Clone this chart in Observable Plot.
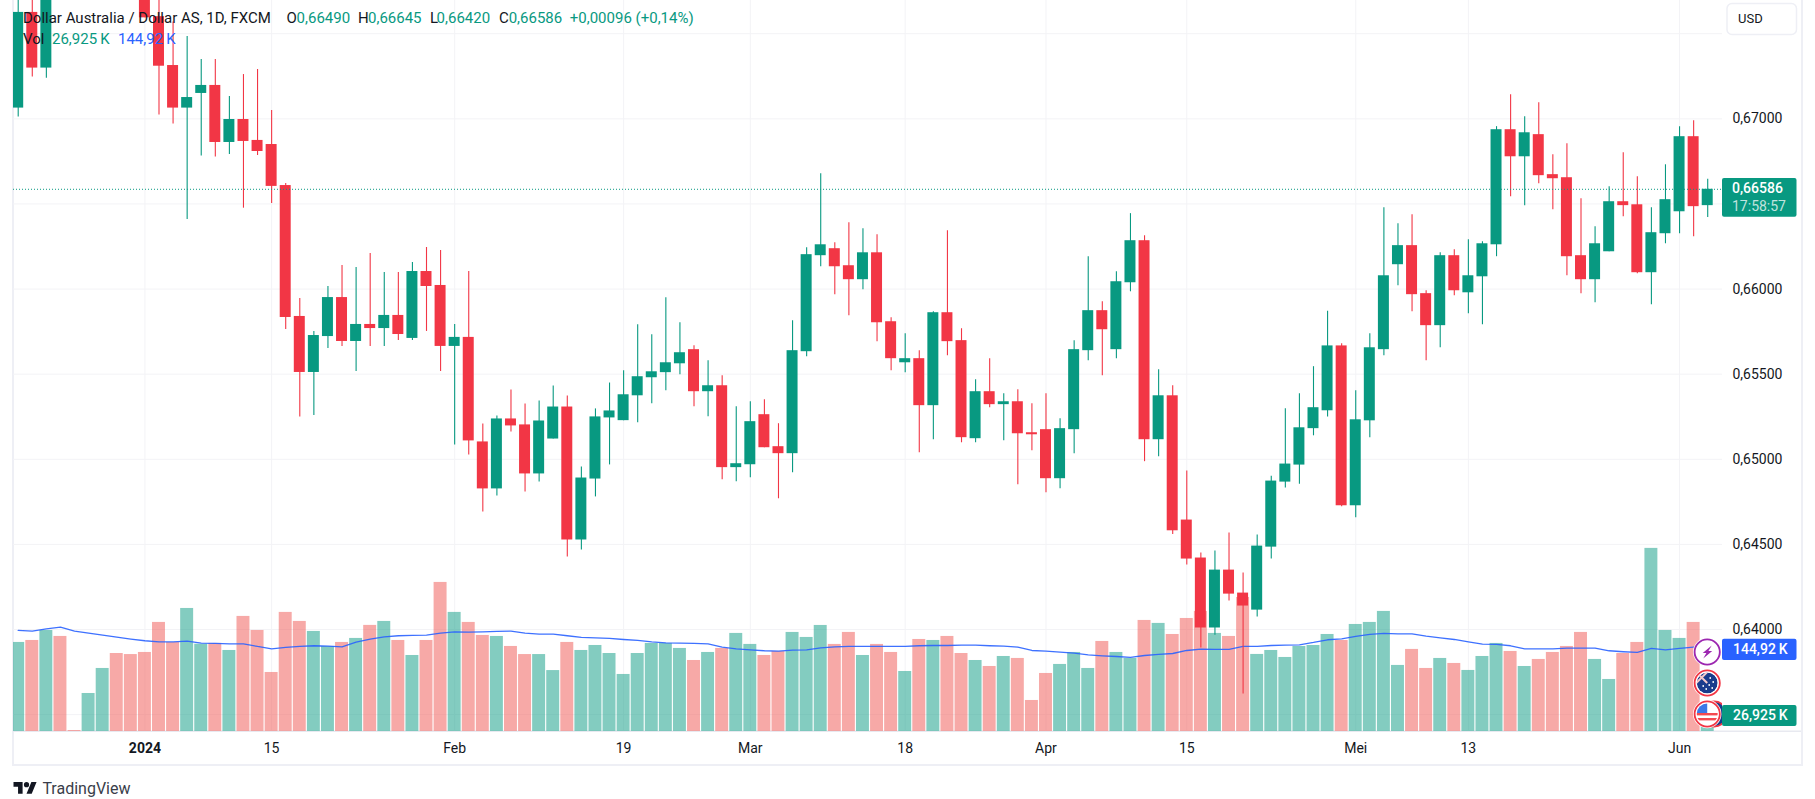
<!DOCTYPE html>
<html>
<head>
<meta charset="utf-8">
<title>Dollar Australia / Dollar AS</title>
<script src="https://cdn.jsdelivr.net/npm/d3@7"></script>
<script src="https://cdn.jsdelivr.net/npm/@observablehq/plot@0.6"></script>
<style>html,body{margin:0;padding:0;background:#fff}</style>
</head>
<body>
<div id="chart"></div>
<script>
// Prices in 1/100000 units
const opens = [67063,67625,67298,67900,67800,67790,67950,68100,68000,67850,67600,67313,67063,67149,67196,66861,66996,66873,66849,66608,65839,65510,65721,65950,65692,65792,65768,65845,65710,66103,66021,65663,65716,65102,64826,65237,65202,64914,65119,65307,64526,64884,65243,65227,65373,65479,65509,65561,65644,65397,65432,64951,64968,65262,65074,65033,65632,66196,66237,66137,66055,66213,65808,65567,65591,65315,65861,65697,65121,65397,65321,65338,65156,65174,64886,65174,65638,65873,65644,66037,66284,65115,65373,64643,64420,64009,64349,64214,64114,64484,64866,64966,65180,65285,65666,64727,65226,65644,66143,66255,65973,65785,66196,65978,66072,66260,66936,66777,66907,66672,66654,66196,66055,66219,66513,66495,66096,66325,66454,66895,66490];
const highs = [67760,67740,67850,68000,67860,68050,68200,68180,68080,67900,67750,67568,67484,67349,67349,67131,67260,67290,67049,66620,65945,65751,66015,66138,66127,66209,66097,66097,66156,66244,66227,65792,66103,65208,65255,65407,65325,65343,65431,65372,64955,65296,65448,65520,65790,65732,65949,65802,65667,65579,65491,65309,65338,65350,65209,65814,66243,66677,66272,66390,66354,66319,65832,65738,65638,65867,66343,65767,65467,65591,65385,65409,65326,65385,65238,65697,66190,65926,66102,66443,66313,65526,65432,64931,64449,64461,64567,64332,64555,64901,65297,65385,65544,65870,65678,65402,65737,66478,66384,66437,65990,66213,66231,66290,66278,66954,67142,67012,67095,66789,66854,66531,66366,66601,66801,66660,66478,66730,66954,66989,66645];
const lows = [67010,67245,67239,67720,67760,67750,67900,67950,67780,67593,67022,66969,66409,66781,66775,66790,66475,66785,66503,65763,65248,65257,65651,65663,65516,65663,65663,65698,65698,65751,65516,65084,65025,64691,64785,65161,64808,64867,65119,64426,64467,64779,64967,65227,65215,65326,65403,65497,65309,65250,64880,64868,64892,65068,64768,64921,65603,66131,65967,65843,65996,65691,65520,65509,65039,65115,65608,65097,65097,65303,65109,64851,65050,64804,64827,65033,65579,65491,65591,65984,64986,65015,64558,64379,63891,63967,64167,63621,64073,64414,64831,64854,65138,65249,64721,64656,65126,65608,66020,65867,65579,65655,65961,65855,65790,66190,66542,66490,66619,66466,66078,65973,65920,66219,66425,66090,65908,66266,66325,66307,66420];
const closes = [67625,67298,67800,67800,67790,67950,68100,68000,67850,67593,67309,67063,67125,67196,66861,66996,66867,66808,66603,65833,65510,65727,65950,65692,65792,65768,65845,65733,66103,66015,65663,65716,65108,64826,65237,65196,64914,65225,65307,64526,64890,65249,65284,65379,65485,65514,65567,65626,65397,65432,64951,64974,65221,65068,65033,65638,66202,66260,66131,66055,66213,65802,65591,65591,65315,65861,65691,65127,65397,65321,65338,65150,65144,64886,65180,65644,65873,65761,66043,66284,65115,65373,64580,64414,64009,64349,64208,64138,64490,64872,64972,65185,65303,65666,64727,65232,65655,66078,66255,65967,65785,66196,65990,66078,66266,66936,66777,66918,66666,66648,66190,66055,66266,66513,66490,66096,66331,66525,66895,66484,66586];
// Volume and its moving average, in thousands
const volumes = [153,156.4,173.6,163.3,1.7,65.3,108.3,134,132.2,135.8,187.4,153,211.4,150,151.3,139.2,197.7,173.6,101.4,204.6,189.1,171.9,146.1,153,159.9,182.3,189.1,156.4,130.6,156.4,256.1,204.6,187.4,165,163.3,146.1,132.2,132.2,104.7,153,139.2,147.8,134,98,134,151.3,151.3,142.7,122,135.8,142.7,168.5,149.6,130.6,137.5,170.2,161.6,182.2,149.6,170.2,130.6,149.6,135.8,103.1,158.1,156.4,163.3,134,122,111.7,128.9,125.5,53.3,99.7,115.2,135.8,108.3,154.7,135.8,125.5,190.8,185.7,166.7,194.2,206.3,168.5,163.3,230.3,132.4,139.2,127.2,146.1,147.8,166.7,156.4,183.9,187.4,206.3,113.5,141,108.3,125.5,116.9,104.9,128.9,151.3,137.5,111.7,123.8,135.8,146.1,170.2,123.8,89.4,134,153,314.6,173.6,159.9,187.4,26.925];
const volumeMA = [173.6,172.5,176.5,179.3,172.5,169,165.6,162,158.7,155.9,154.1,154.1,155.3,151.8,151.3,150.7,150.7,146.1,142.1,144.4,146.1,147.3,146.7,145.5,153.6,158.7,162.7,164.5,165,165.6,169,171.3,170.8,171.3,171.9,172.5,169,167.3,167.3,164.5,161.6,161,159.9,158.1,156.4,154.1,152.4,151.8,151.3,150.7,145,142.1,140.4,138.7,138.1,139.8,140.4,143.8,145.5,146.1,146.1,146.1,146.1,146.1,147.3,147.8,147.8,148.4,148.4,147.3,146.7,145,139.2,138.1,136.4,134.7,131.8,130.1,128.9,127.2,130.6,132.4,134,139.2,141.5,141,141,146.1,146.1,147.8,148.4,149,153,157.6,159.3,163.3,166.7,168.5,167.9,167.9,163.9,161,158.1,154.1,150.1,149.6,147.3,142.1,142.1,142.1,143.3,143.3,143.3,138.7,137,135.8,142.7,140.4,142.7,145,144.92];

const tickBars = [18,31,43,52,63,73,83,95,103,118];
const tickNames = ["15","Feb","19","Mar","18","Apr","15","Mei","13","Jun"];
const yearBar = 9, yearName = "2024";
const priceTicks = [0.64,0.645,0.65,0.655,0.66,0.67];
const priceGrid = [0.635,0.64,0.645,0.65,0.655,0.66,0.665,0.67,0.675];
const lastPrice = 0.66586, lastVolume = "26,925\u2009K", lastMA = "144,92\u2009K";

const UP = "#089981", DOWN = "#f23645", VOLDOWN = "#ef5350", BLUE = "#2962ff", INK = "#131722", GRID = "#f3f3f6", EDGE = "#eeeff5";
const volumeFloor = 0.63401, volumeUnit = 0.582 / 17023;
const fmtPrice = d => d3.format(".5f")(d).replace(".", ",");
const bars = opens.map((o, i) => ({
  i, o: o / 1e5, h: highs[i] / 1e5, l: lows[i] / 1e5, c: closes[i] / 1e5,
  dir: closes[i] >= o ? "up" : "down",
  volColor: closes[i] >= o ? UP : VOLDOWN,
  vol: volumeFloor + volumes[i] * volumeUnit,
  ma: volumeFloor + volumeMA[i] * volumeUnit
}));

const legendRows = [
  [23, 18, "Dollar Australia / Dollar AS, 1D, FXCM", INK],
  [286.5, 18, "O", INK], [296.6, 18, "0,66490", UP],
  [358, 18, "H", INK], [368, 18, "0,66645", UP],
  [430, 18, "L", INK], [436.6, 18, "0,66420", UP],
  [499, 18, "C", INK], [508.7, 18, "0,66586", UP],
  [569.8, 18, "+0,00096 (+0,14%)", UP],
  [23, 38.5, "Vol", INK], [52, 38.5, lastVolume, UP], [118, 38.5, lastMA, BLUE]
];

function chrome() {
  const g = d3.create("svg:g");
  const rect = (x, y, w, h, f) => g.append("rect").attr("x", x).attr("y", y).attr("width", w).attr("height", h).attr("fill", f);
  rect(12, 0, 2, 766, EDGE);
  rect(1801, 0, 2, 766, EDGE);
  rect(12, 764, 1791, 2, EDGE);
  rect(13, 730.5, 1788, 1.5, "#e8e9f0");
  return g.node();
}

function overlay(index, { x, y }) {
  const g = d3.create("svg:g").attr("font-family", "Roboto, sans-serif").attr("text-anchor", "start");
  const tag = (top, h, fill) => g.append("rect").attr("x", 1722).attr("y", top).attr("width", 74.5).attr("height", h).attr("rx", 2).attr("fill", fill);
  const label = (px, py, s, fill, size, weight) => g.append("text").attr("x", px).attr("y", py).attr("dy", "0.35em")
    .attr("fill", fill).attr("font-size", size).attr("font-weight", weight || 400).text(s);
  const yp = y(lastPrice);
  tag(yp - 10.7, 38.7, UP);
  label(1732, yp - 0.5, fmtPrice(lastPrice), "#fff", 14, 500);
  label(1732, yp + 17, "17:58:57", "rgba(255,255,255,.75)", 14);
  tag(638.7, 21.3, BLUE); label(1733, 649.5, lastMA, "#fff", 14, 500);
  tag(705, 21, UP); label(1733, 715.5, lastVolume, "#fff", 14, 500);

  // currency selector
  g.append("rect").attr("x", 1727).attr("y", 3.5).attr("width", 69.5).attr("height", 31).attr("rx", 5)
    .attr("fill", "#fff").attr("stroke", "#eeeff5").attr("stroke-width", 1.5);
  label(1738, 18.5, "USD", INK, 13);

  // event badges on the last bar
  const cx = x(120);
  const defs = g.append("defs");
  defs.append("clipPath").attr("id", "usClip").append("circle").attr("cx", cx).attr("cy", 714).attr("r", 10.5);
  defs.append("clipPath").attr("id", "auClip").append("circle").attr("cx", cx).attr("cy", 683).attr("r", 10.5);
  defs.append("clipPath").attr("id", "sideClip").append("rect").attr("x", 1700).attr("y", 695).attr("width", 22).attr("height", 36);
  const ring = (cy, color, fill) => {
    g.append("circle").attr("cx", cx).attr("cy", cy).attr("r", 14.2).attr("fill", "#fff");
    g.append("circle").attr("cx", cx).attr("cy", cy).attr("r", 12.6).attr("fill", fill).attr("stroke", color).attr("stroke-width", 1.8);
  };
  ring(652, "#9c27b0", "#fff");
  g.append("path").attr("transform", `translate(${cx},652)`).attr("fill", "#9c27b0")
    .attr("d", "M4.5 -6.5 L-4.5 1 L-0.8 1 L-4 6.5 L5 -1 L1.2 -1 Z");
  ring(683, "#f23645", "#fff");
  const au = g.append("g").attr("clip-path", "url(#auClip)");
  au.append("circle").attr("cx", cx).attr("cy", 683).attr("r", 10.5).attr("fill", "#1a3c8c");
  au.append("path").attr("d", `M${cx - 11} 672 L${cx} 683 M${cx} 672 L${cx - 11} 683`).attr("stroke", "#f6c9c9").attr("stroke-width", 2);
  [[3, -5], [6, -1], [2, 2], [-1, 6], [5, 5], [-4, 3]].forEach(([dx, dy]) =>
    au.append("circle").attr("cx", cx + dx).attr("cy", 683 + dy).attr("r", 0.9).attr("fill", "#fff"));
  const side = g.append("g").attr("clip-path", "url(#sideClip)");
  side.append("circle").attr("cx", cx + 7).attr("cy", 714).attr("r", 12.6).attr("fill", "#1a3c8c").attr("stroke", DOWN).attr("stroke-width", 1.8);
  ring(714, "#f23645", "#fff");
  const us = g.append("g").attr("clip-path", "url(#usClip)");
  [[-1, 2.4], [4, 2.4]].forEach(([dy, h]) =>
    us.append("rect").attr("x", cx - 11).attr("y", 714 + dy).attr("width", 22).attr("height", h).attr("fill", "#f4494f"));
  us.append("rect").attr("x", cx - 11).attr("y", 703).attr("width", 11).attr("height", 10).attr("fill", "#3b78e7");

  // legend above the candles
  legendRows.forEach(([px, py, s, fill]) => label(px, py, s, fill, 15));

  // footer logo
  g.append("path").attr("transform", "translate(13.5,779.5) scale(0.65)").attr("fill", INK)
    .attr("d", "M14 22H7V11H0V4h14v18zM28 22h-8l7.5-18h8L28 22z");
  g.append("circle").attr("cx", 13.5 + 20 * 0.65).attr("cy", 779.5 + 8 * 0.65).attr("r", 4 * 0.65).attr("fill", INK);
  label(42.4, 788, "TradingView", "#3a3e4a", 16);
  return g.node();
}

const chart = Plot.plot({
  width: 1815, height: 799,
  marginTop: 0, marginBottom: 68, marginLeft: 13, marginRight: 93,
  style: { background: "#fff", fontFamily: "Roboto, sans-serif", color: INK, fontSize: "14px" },
  x: { domain: [-0.334, 121.05], label: null },
  y: { domain: [0.63401, 0.67695], label: null },
  color: { domain: ["up", "down"], range: [UP, DOWN] },
  marks: [
    chrome,
    Plot.gridY(priceGrid, { stroke: GRID, strokeOpacity: 1 }),
    Plot.gridX([yearBar, ...tickBars], { stroke: GRID, strokeOpacity: 1 }),
    Plot.axisY(priceTicks, { anchor: "right", tickSize: 0, tickPadding: 10, tickFormat: fmtPrice, label: null, fontSize: 14, fill: INK }),
    Plot.axisX(tickBars, { anchor: "bottom", tickSize: 0, tickPadding: 12, tickFormat: d => tickNames[tickBars.indexOf(d)], label: null, fontSize: 14, fill: INK }),
    Plot.axisX([yearBar], { anchor: "bottom", tickSize: 0, tickPadding: 12, tickFormat: () => yearName, label: null, fontSize: 14, fontWeight: 700, fill: INK }),
    Plot.rect(bars, { x1: d => d.i - 0.46, x2: d => d.i + 0.46, y1: volumeFloor, y2: "vol", fill: d => d.volColor, fillOpacity: 0.5, clip: true }),
    Plot.line(bars, { x: "i", y: "ma", stroke: BLUE, strokeWidth: 1.3, strokeOpacity: 0.9, clip: true }),
    Plot.ruleX(bars, { x: "i", y1: "l", y2: "h", stroke: "dir", strokeWidth: 1.1, clip: true }),
    Plot.rect(bars, { x1: d => d.i - 0.39, x2: d => d.i + 0.39, y1: "o", y2: "c", fill: "dir", clip: true }),
    Plot.ruleY([lastPrice], { stroke: UP, strokeWidth: 1, strokeDasharray: "1,2" }),
    overlay
  ]
});
document.getElementById("chart").appendChild(chart);
</script>
</body>
</html>
